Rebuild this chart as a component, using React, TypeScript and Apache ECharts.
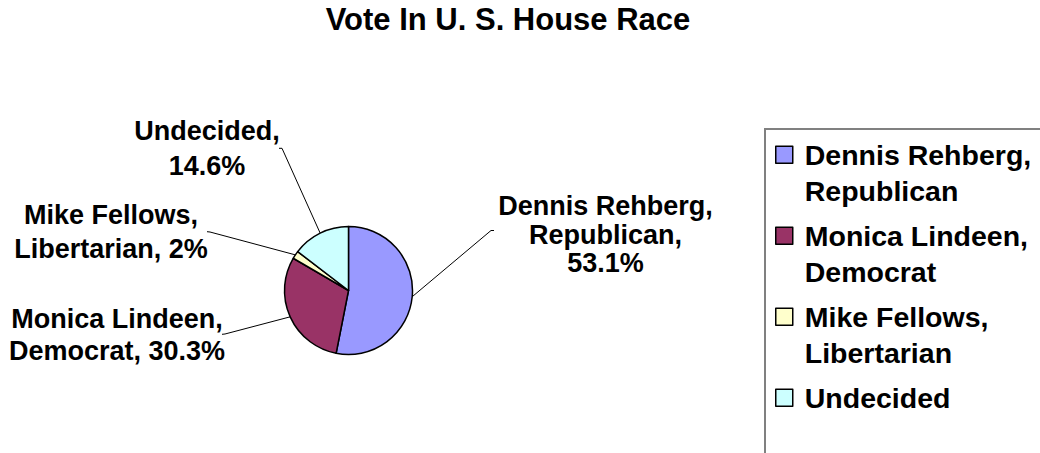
import React, { useEffect, useRef } from "react";
import * as echarts from "echarts";

// ---- data ----
const titleText = "Vote In U. S. House Race";
const candidates = ["Dennis Rehberg", "Monica Lindeen", "Mike Fellows", "Undecided"];
const parties = ["Republican", "Democrat", "Libertarian", ""];
const votePct = [53.1, 30.3, 2, 14.6];
const sliceColors = ["#9999FF", "#993366", "#FFFFCC", "#CCFFFF"];

// ---- layout (positions / styles only) ----
const FONT = "'Liberation Sans', Arial, Helvetica, sans-serif";
const PIE_CX = 348.5;
const PIE_CY = 290.5;
const PIE_R = 64;
type Placement = { x: number; y: number; lh: number; bend: number[]; end: number[]; mode: string };
const labelPlacement: Placement[] = [
  { x: 605.5, y: 234.8, lh: 28.5, bend: [491, 230.5], end: [494, 230.5], mode: "all" },
  { x: 117, y: 335, lh: 32.5, bend: [225, 334], end: [222, 334.3], mode: "party" },
  { x: 111, y: 232, lh: 33.5, bend: [210, 232], end: [207, 231.7], mode: "party" },
  { x: 207, y: 148, lh: 35, bend: [282, 148.3], end: [279, 148.3], mode: "none" },
];

const fullName = (i: number) => candidates[i] + (parties[i] ? ", " + parties[i] : "");
const pctText = (v: number) => String(v) + "%";

function labelText(i: number): string {
  const m = labelPlacement[i].mode;
  if (m === "all") return `${candidates[i]},\n${parties[i]},\n${pctText(votePct[i])}`;
  if (m === "party") return `${candidates[i]},\n${parties[i]}, ${pctText(votePct[i])}`;
  return `${candidates[i]},\n${pctText(votePct[i])}`;
}

function midEdgePoint(i: number): number[] {
  const total = votePct.reduce((a, b) => a + b, 0);
  let cum = 0;
  for (let k = 0; k < i; k++) cum += votePct[k];
  const theta = ((cum + votePct[i] / 2) / total) * Math.PI * 2;
  return [PIE_CX + PIE_R * Math.sin(theta), PIE_CY - PIE_R * Math.cos(theta)];
}

export default function App() {
  const ref = useRef<HTMLDivElement>(null);
  useEffect(() => {
    document.body.style.margin = "0";
    if (!ref.current) return;
    const chart = echarts.init(ref.current, undefined, { renderer: "svg" });
    const data = candidates.map((_, i) => ({
      name: fullName(i),
      value: votePct[i],
      itemStyle: { color: sliceColors[i] },
      label: { lineHeight: labelPlacement[i].lh },
    }));
    chart.setOption({
      animation: false,
      backgroundColor: "#ffffff",
      title: {
        text: titleText,
        left: 508,
        top: 4,
        textAlign: "center",
        padding: 0,
        textStyle: { fontFamily: FONT, fontSize: 31, fontWeight: "bold", color: "#000" },
      },
      legend: {
        orient: "vertical",
        left: 775,
        top: 100,
        padding: 0,
        itemWidth: 17,
        itemHeight: 17,
        itemGap: -28.5,
        icon: "rect",
        selectedMode: false,
        data: candidates.map((_, i) => fullName(i)),
        itemStyle: { borderColor: "#000", borderWidth: 1.5 },
        formatter: (name: string) => {
          const parts = name.split(", ");
          return parts.length > 1 ? "\n" + parts[0] + ",\n" + parts[1] : "\n" + parts[0] + "\n";
        },
        textStyle: {
          fontFamily: FONT,
          fontSize: 28.5,
          fontWeight: "bold",
          color: "#000",
          lineHeight: 36.5,
          padding: [0, 0, 0, 7],
        },
      },
      graphic: [
        {
          type: "rect",
          z: -1,
          shape: { x: 765, y: 129, width: 320, height: 400 },
          style: { fill: "transparent", stroke: "#808080", lineWidth: 2 },
        },
      ],
      series: [
        {
          type: "pie",
          center: [PIE_CX, PIE_CY],
          radius: PIE_R,
          startAngle: 90,
          clockwise: true,
          avoidLabelOverlap: false,
          itemStyle: { borderColor: "#000", borderWidth: 1.5 },
          label: {
            show: true,
            position: "outside",
            formatter: (p: any) => labelText(p.dataIndex),
            fontFamily: FONT,
            fontSize: 27,
            fontWeight: "bold",
            color: "#000",
            align: "center",
          },
          labelLine: { show: true, lineStyle: { color: "#000", width: 1 } },
          labelLayout: (params: any) => {
            const i = params.dataIndex;
            const pl = labelPlacement[i];
            return {
              x: pl.x,
              y: pl.y,
              align: "center",
              verticalAlign: "middle",
              labelLinePoints: [midEdgePoint(i), pl.bend, pl.end],
            };
          },
          emphasis: { disabled: true },
          data,
        },
      ],
    });
    return () => chart.dispose();
  }, []);
  return <div ref={ref} style={{ width: 1040, height: 453 }} />;
}
